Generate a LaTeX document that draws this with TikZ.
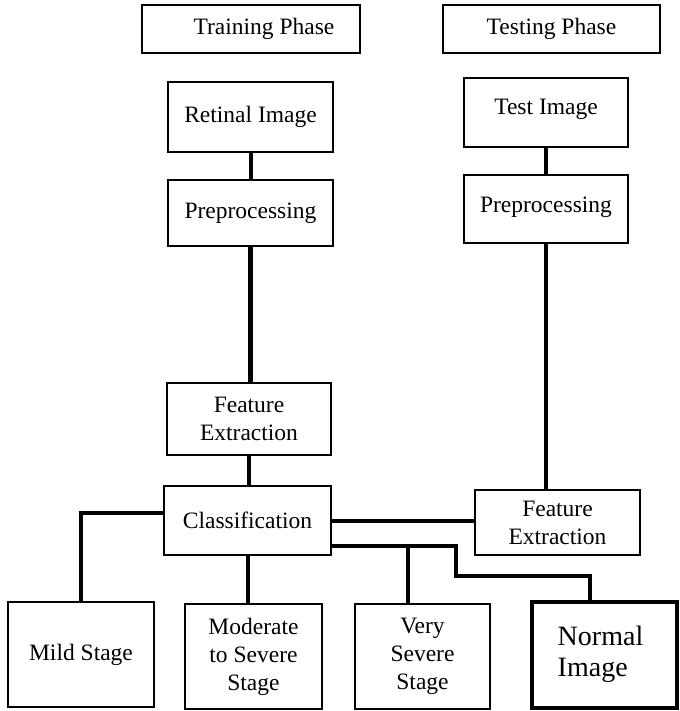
\documentclass[tikz,border=0pt]{standalone}
\usepackage{fontspec}
\setmainfont{Liberation Serif}
\begin{document}
\begin{tikzpicture}[x=1pt,y=-1pt,
  box/.style={draw,line width=2.6pt,inner sep=0pt,align=center,font=\fontsize{23.5}{28}\selectfont},
  conn/.style={line width=4pt}]
\useasboundingbox (0,0) rectangle (679,711);
\node[box,minimum width=218,minimum height=48] (train) at (251,29) {\hspace*{26pt}Training Phase};
\node[box,minimum width=217,minimum height=48] (test) at (551.5,29) {Testing Phase};
\node[box,minimum width=165,minimum height=70] (ret) at (250.5,117) {\raisebox{4pt}{Retinal Image}};
\node[box,minimum width=164,minimum height=69] (timg) at (546,112.5) {\raisebox{12pt}{Test Image}};
\node[box,minimum width=165,minimum height=66] (pre1) at (250.5,213) {\raisebox{2pt}{Preprocessing}};
\node[box,minimum width=164,minimum height=68] (pre2) at (546,209) {\raisebox{9pt}{Preprocessing}};
\node[box,minimum width=164,minimum height=72] (fe1) at (249,419) {Feature\\Extraction};
\node[box,minimum width=167,minimum height=69] (cls) at (247.5,520.5) {Classification};
\node[box,minimum width=165,minimum height=65] (fe2) at (557.5,522.5) {Feature\\Extraction};
\node[box,minimum width=146,minimum height=105] (mild) at (81,654.5) {\raisebox{-3pt}{Mild Stage}};
\node[box,minimum width=137,minimum height=105] (mod) at (253.5,656.5) {Moderate\\to Severe\\Stage};
\node[box,minimum width=135,minimum height=105] (vs) at (422.5,656.5) {Very\\Severe\\Stage};
\node[box,line width=4.2pt,minimum width=145,minimum height=106,font=\fontsize{28}{31}\selectfont] (norm) at (604.5,655) {\raisebox{4pt}{\hspace*{-8pt}\begin{tabular}{@{}l@{}}Normal\\Image\end{tabular}}};
% connectors
\draw[conn] (ret.south) -- (pre1.north);
\draw[conn] (timg.south) -- (timg.south |- pre2.north);
\draw[conn,line width=5pt] (pre1.south) -- (pre1.south |- fe1.north);
\draw[conn] (pre2.south) -- (pre2.south |- fe2.north);
\draw[conn] (fe1.south) -- (fe1.south |- cls.north);
\draw[conn] (cls.west |- 0,513) -| (mild.north);
\draw[conn] (cls.south) -- (cls.south |- mod.north);
\draw[conn] (cls.east |- 0,521) -- (fe2.west |- 0,521);
\coordinate (j1) at (408,546);
\coordinate (j2) at (456,546);
\draw[conn] (cls.east |- j1) -- (j2) -- (456,576) -| (norm.north -| 590,0);
\draw[conn] (j1) -- (j1 |- vs.north);
\end{tikzpicture}
\end{document}
